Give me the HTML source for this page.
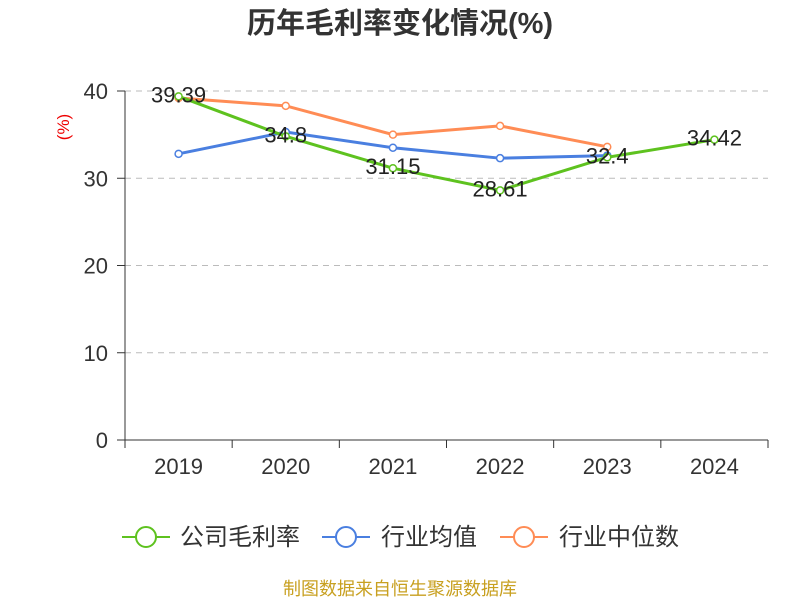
<!DOCTYPE html>
<html><head><meta charset="utf-8"><style>
body{margin:0;background:#fff;}
svg{display:block;font-family:"Liberation Sans","Noto Sans CJK SC",sans-serif;}
</style></head><body>
<svg id="c" width="800" height="600">
<text x="400" y="33" text-anchor="middle" font-size="29" font-weight="bold" fill="#333">历年毛利率变化情况(%)</text>
<text transform="translate(69,127) rotate(-90)" text-anchor="middle" font-size="17" fill="#e00">(%)</text>
<g id="grid"></g><g id="axes"></g><g id="series"></g>
<g>
<g><line x1="122" y1="537" x2="170" y2="537" stroke="#5ec21f" stroke-width="2"/><circle cx="146" cy="537" r="10" fill="#fff" stroke="#5ec21f" stroke-width="2"/><text x="180" y="545" font-size="24" fill="#333">公司毛利率</text></g>
<g><line x1="322" y1="537" x2="370" y2="537" stroke="#4a7fe0" stroke-width="2"/><circle cx="346" cy="537" r="10" fill="#fff" stroke="#4a7fe0" stroke-width="2"/><text x="381" y="545" font-size="24" fill="#333">行业均值</text></g>
<g><line x1="500" y1="537" x2="548" y2="537" stroke="#ff8c55" stroke-width="2"/><circle cx="524" cy="537" r="10" fill="#fff" stroke="#ff8c55" stroke-width="2"/><text x="559" y="545" font-size="24" fill="#333">行业中位数</text></g>
</g>
<text x="400" y="595" text-anchor="middle" font-size="18" fill="#c8a020">制图数据来自恒生聚源数据库</text>
</svg>
<script>
const categories=["2019","2020","2021","2022","2023","2024"];
const company=[39.39,34.8,31.15,28.61,32.4,34.42];
const industryAvg=[32.8,35.3,33.5,32.3,32.6,null];
const industryMedian=[39.2,38.3,35.0,36.0,33.6,null];
const yTicks=[0,10,20,30,40];
const ns="http://www.w3.org/2000/svg";
const X0=125,X1=768,Y0=440,Y1=91,YMAX=40;
const bw=(X1-X0)/categories.length;
const xs=i=>X0+bw*(i+0.5);
const ys=v=>Y0-(v/YMAX)*(Y0-Y1);
function mk(t,a,p){const e=document.createElementNS(ns,t);for(const k in a)e.setAttribute(k,a[k]);p.appendChild(e);return e;}
const grid=document.getElementById('grid'),axes=document.getElementById('axes'),ser=document.getElementById('series');
yTicks.forEach(v=>{
 if(v>0){const g=mk('line',{x1:X0,x2:X1,y1:ys(v),y2:ys(v),stroke:'#bbb','stroke-dasharray':'6,5'},grid);
 
 }
 const t=mk('text',{x:X0-17,y:ys(v)+8,'text-anchor':'end','font-size':22,fill:'#333'},axes);t.textContent=v;
 
 
 mk('line',{x1:X0-8,x2:X0,y1:ys(v),y2:ys(v),stroke:'#333'},axes);
});
const ya=mk('line',{x1:X0,x2:X0,y1:Y1,y2:Y0,stroke:'#333'},axes);


const xa=mk('line',{x1:X0,x2:X1,y1:Y0,y2:Y0,stroke:'#333'},axes);


for(let i=0;i<=categories.length;i++)mk('line',{x1:X0+bw*i,x2:X0+bw*i,y1:Y0,y2:Y0+8,stroke:'#333'},axes);
categories.forEach((c,i)=>{const t=mk('text',{x:xs(i),y:Y0+34,'text-anchor':'middle','font-size':22,fill:'#333'},axes);t.textContent=c;
 
 });
function series(vals,color,name,labels){
 const pts=vals.map((v,i)=>v==null?null:[xs(i),ys(v)]).filter(p=>p);
 const pl=mk('polyline',{points:pts.map(p=>p.join(',')).join(' '),fill:'none',stroke:color,'stroke-width':3},ser);
 
 
 vals.forEach((v,i)=>{if(v==null)return;
  const c=mk('circle',{cx:xs(i),cy:ys(v),r:3.5,fill:'#fff',stroke:color,'stroke-width':1.5},ser);
  
  
  if(labels){const t=mk('text',{x:xs(i),y:ys(v)+6,'text-anchor':'middle','font-size':22,fill:'#222'},ser);t.textContent=v;
   
   }
 });
}
series(industryMedian,'#ff8c55','industry-median',false);
series(industryAvg,'#4a7fe0','industry-avg',false);
series(company,'#5ec21f','company',true);
</script>
</body></html>
